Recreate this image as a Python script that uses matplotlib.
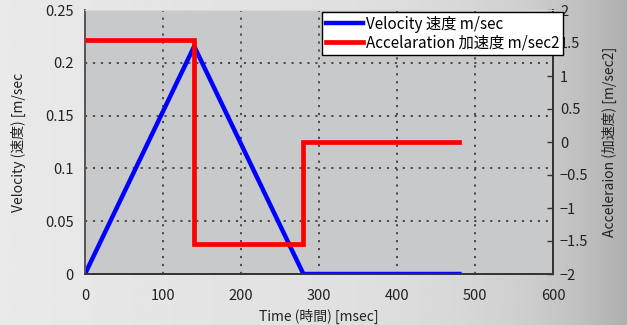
import numpy as np
import matplotlib
matplotlib.use('Agg')
import matplotlib.pyplot as plt

plt.rcParams['font.family'] = ['Noto Sans CJK JP', 'DejaVu Sans']
plt.rcParams['axes.unicode_minus'] = True

# data
time_vel = [0, 140, 280, 480]          # msec
velocity = [0, 0.2156, 0, 0]           # m/sec
time_acc = [0, 140, 140, 280, 280, 480]
accel = [1.54, 1.54, -1.54, -1.54, 0, 0]  # m/sec2

x_ticks = [0, 100, 200, 300, 400, 500, 600]
v_ticks = [0, 0.05, 0.1, 0.15, 0.2, 0.25]
v_labels = ['0', '0.05', '0.1', '0.15', '0.2', '0.25']
a_ticks = [-2, -1.5, -1, -0.5, 0, 0.5, 1, 1.5, 2]
a_labels = ['\u22122', '\u22121.5', '\u22121', '\u22120.5', '0', '0.5', '1', '1.5', '2']

fig = plt.figure(figsize=(6.27, 3.25), dpi=100)

# gradient background
bg = fig.add_axes([0, 0, 1, 1], zorder=-10)
xs = np.linspace(0, 1, 400)
g = 0.915 - 0.06 * xs - 0.17 * xs**6
bg.imshow(np.tile(g, (10, 1)), cmap='gray', vmin=0, vmax=1, aspect='auto',
          extent=[0, 1, 0, 1])
bg.axis('off')

ax = fig.add_axes([85/627, 1 - 274/325, (553 - 85)/627, (274 - 10)/325])
ax.set_facecolor('#c8c9cb')
l1, = ax.plot(time_vel, velocity, color='#0000ff', lw=3.2, solid_joinstyle='miter',
              label='Velocity 速度 m/sec')
ax.set_xlim(0, 600)
ax.set_ylim(0, 0.25)
ax.set_xticks(x_ticks)
ax.set_yticks(v_ticks)
ax.set_yticklabels(v_labels)
ax.grid(True, color='#404040', linestyle=(0, (1.2, 3.2)), lw=1.3)
ax.tick_params(axis='x', length=0, labelsize=10.5, colors='#222222', pad=11)
ax.tick_params(axis='y', length=0, labelsize=10.5, colors='#222222', pad=8)
ax.set_xlabel('Time (時間) [msec]', fontsize=10, color='#222222', labelpad=4)
ax.set_ylabel('Velocity (速度) [m/sec', fontsize=10, color='#222222', labelpad=14)

ax2 = ax.twinx()
l2, = ax2.plot(time_acc, accel, color='#ff0000', lw=3.4, solid_joinstyle='miter',
               label='Accelaration 加速度 m/sec2')
ax2.set_ylim(-2, 2)
ax2.set_yticks(a_ticks)
ax2.set_yticklabels(a_labels)
ax2.tick_params(axis='y', direction='in', length=4, width=1, color='#333333',
                labelsize=10.5, labelcolor='#222222', pad=5)
ax2.set_ylabel('Acceleraion (加速度) [m/sec2]', fontsize=10, color='#222222',
               labelpad=10)

for a in (ax, ax2):
    a.spines['left'].set_color('#555555')
    a.spines['bottom'].set_color('#333333')
    a.spines['right'].set_color('#333333')
    a.spines['top'].set_color('#d8d8d8')
    a.spines['left'].set_linewidth(1.2)
    a.spines['bottom'].set_linewidth(1.2)
    a.spines['right'].set_linewidth(1.2)

leg = ax2.legend(handles=[l1, l2], loc='upper right',
                 bbox_to_anchor=(563/627, 1 - 12/325), bbox_transform=fig.transFigure,
                 fontsize=11, frameon=True, fancybox=False, framealpha=1,
                 edgecolor='black', handlelength=2.4, handletextpad=0.2,
                 borderpad=0.25, labelspacing=0.1, borderaxespad=0)
leg.get_frame().set_linewidth(1.0)

fig.savefig('out.png', dpi=100)
